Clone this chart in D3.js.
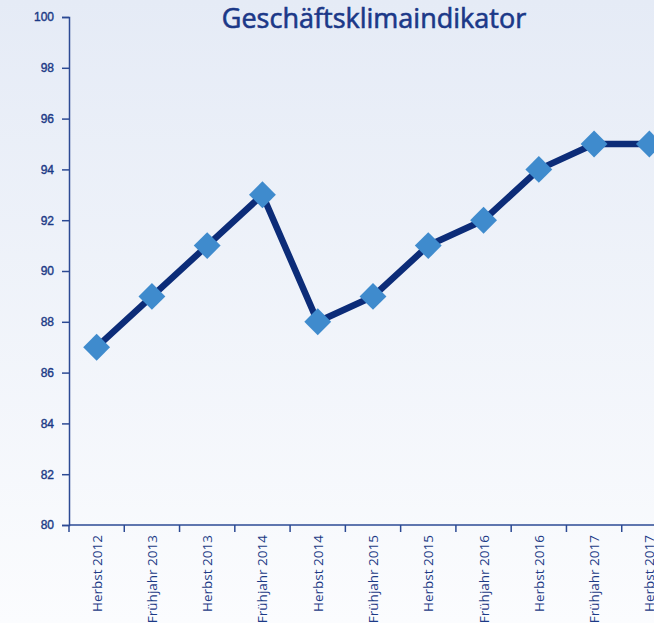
<!DOCTYPE html>
<html lang="de">
<head>
<meta charset="UTF-8">
<title>Geschäftsklimaindikator</title>
<style>
  body { margin: 0; font-family: "Open Sans", sans-serif; }
  .axis path, .axis line { stroke: #2c4a94; stroke-width: 1.5px; }
  .axis text { fill: #1c3a86; }
</style>
</head>
<body>
<svg width="654" height="623"></svg>
<script src="https://d3js.org/d3.v7.min.js"></script>
<script>
const periods = ["Herbst 2012", "Frühjahr 2013", "Herbst 2013", "Frühjahr 2014", "Herbst 2014",
  "Frühjahr 2015", "Herbst 2015", "Frühjahr 2016", "Herbst 2016", "Frühjahr 2017", "Herbst 2017"];
const values = [87, 89, 91, 93, 88, 89, 91, 92, 94, 95, 95];
const yTicks = [80, 82, 84, 86, 88, 90, 92, 94, 96, 98, 100];

const width = 654, height = 623;
const svg = d3.select("svg");

// background gradient
const grad = svg.append("defs").append("linearGradient")
  .attr("id", "bg").attr("x1", 0).attr("y1", 0).attr("x2", 0).attr("y2", 1);
grad.append("stop").attr("offset", "0%").attr("stop-color", "#e5ebf6");
grad.append("stop").attr("offset", "100%").attr("stop-color", "#fbfcfe");
svg.append("rect").attr("width", width).attr("height", height).attr("fill", "url(#bg)");

const x = d3.scaleBand().domain(periods).range([69, 677]).padding(0);
const y = d3.scaleLinear().domain([80, 100]).range([525, 17]);

// y axis
svg.append("g").attr("class", "axis")
  .attr("transform", "translate(69,0)")
  .call(d3.axisLeft(y).tickValues(yTicks).tickSize(7).tickPadding(8))
  .call(g => g.selectAll("text").style("font-size", "12px")
    .attr("stroke", "#1c3a86").attr("stroke-width", 0.4));

// x axis with ticks at band edges
const xAxis = svg.append("g").attr("class", "axis")
  .attr("transform", "translate(0,525)");
xAxis.append("line").attr("x1", 69).attr("x2", width).attr("y1", 0).attr("y2", 0);
xAxis.selectAll("line.tick").data(periods).join("line")
  .attr("class", "tick")
  .attr("x1", d => x(d)).attr("x2", d => x(d))
  .attr("y1", 0).attr("y2", 7);
xAxis.selectAll("text").data(periods).join("text")
  .attr("transform", d => `translate(${x(d) + x.bandwidth() / 2 + 5},10) rotate(-90)`)
  .attr("text-anchor", "end")
  .style("font-size", "13.5px")
  .text(d => d);

// title
svg.append("text")
  .attr("x", 374).attr("y", 28)
  .attr("text-anchor", "middle")
  .attr("fill", "#1b3888")
  .attr("stroke", "#1b3888")
  .attr("stroke-width", 0.6)
  .style("font-size", "27px")
  .text("Geschäftsklimaindikator");

// line
const line = d3.line()
  .x((d, i) => x(periods[i]) + x.bandwidth() / 2)
  .y(d => y(d));
svg.append("path").datum(values)
  .attr("fill", "none")
  .attr("stroke", "#0c2c78")
  .attr("stroke-width", 6.5)
  .attr("d", line);

// diamond markers
svg.selectAll("rect.marker").data(values).join("rect")
  .attr("class", "marker")
  .attr("x", -9.5).attr("y", -9.5).attr("width", 19).attr("height", 19)
  .attr("fill", "#3f8bcd")
  .attr("transform", (d, i) => `translate(${x(periods[i]) + x.bandwidth() / 2},${y(d)}) rotate(45)`);
</script>
</body>
</html>
